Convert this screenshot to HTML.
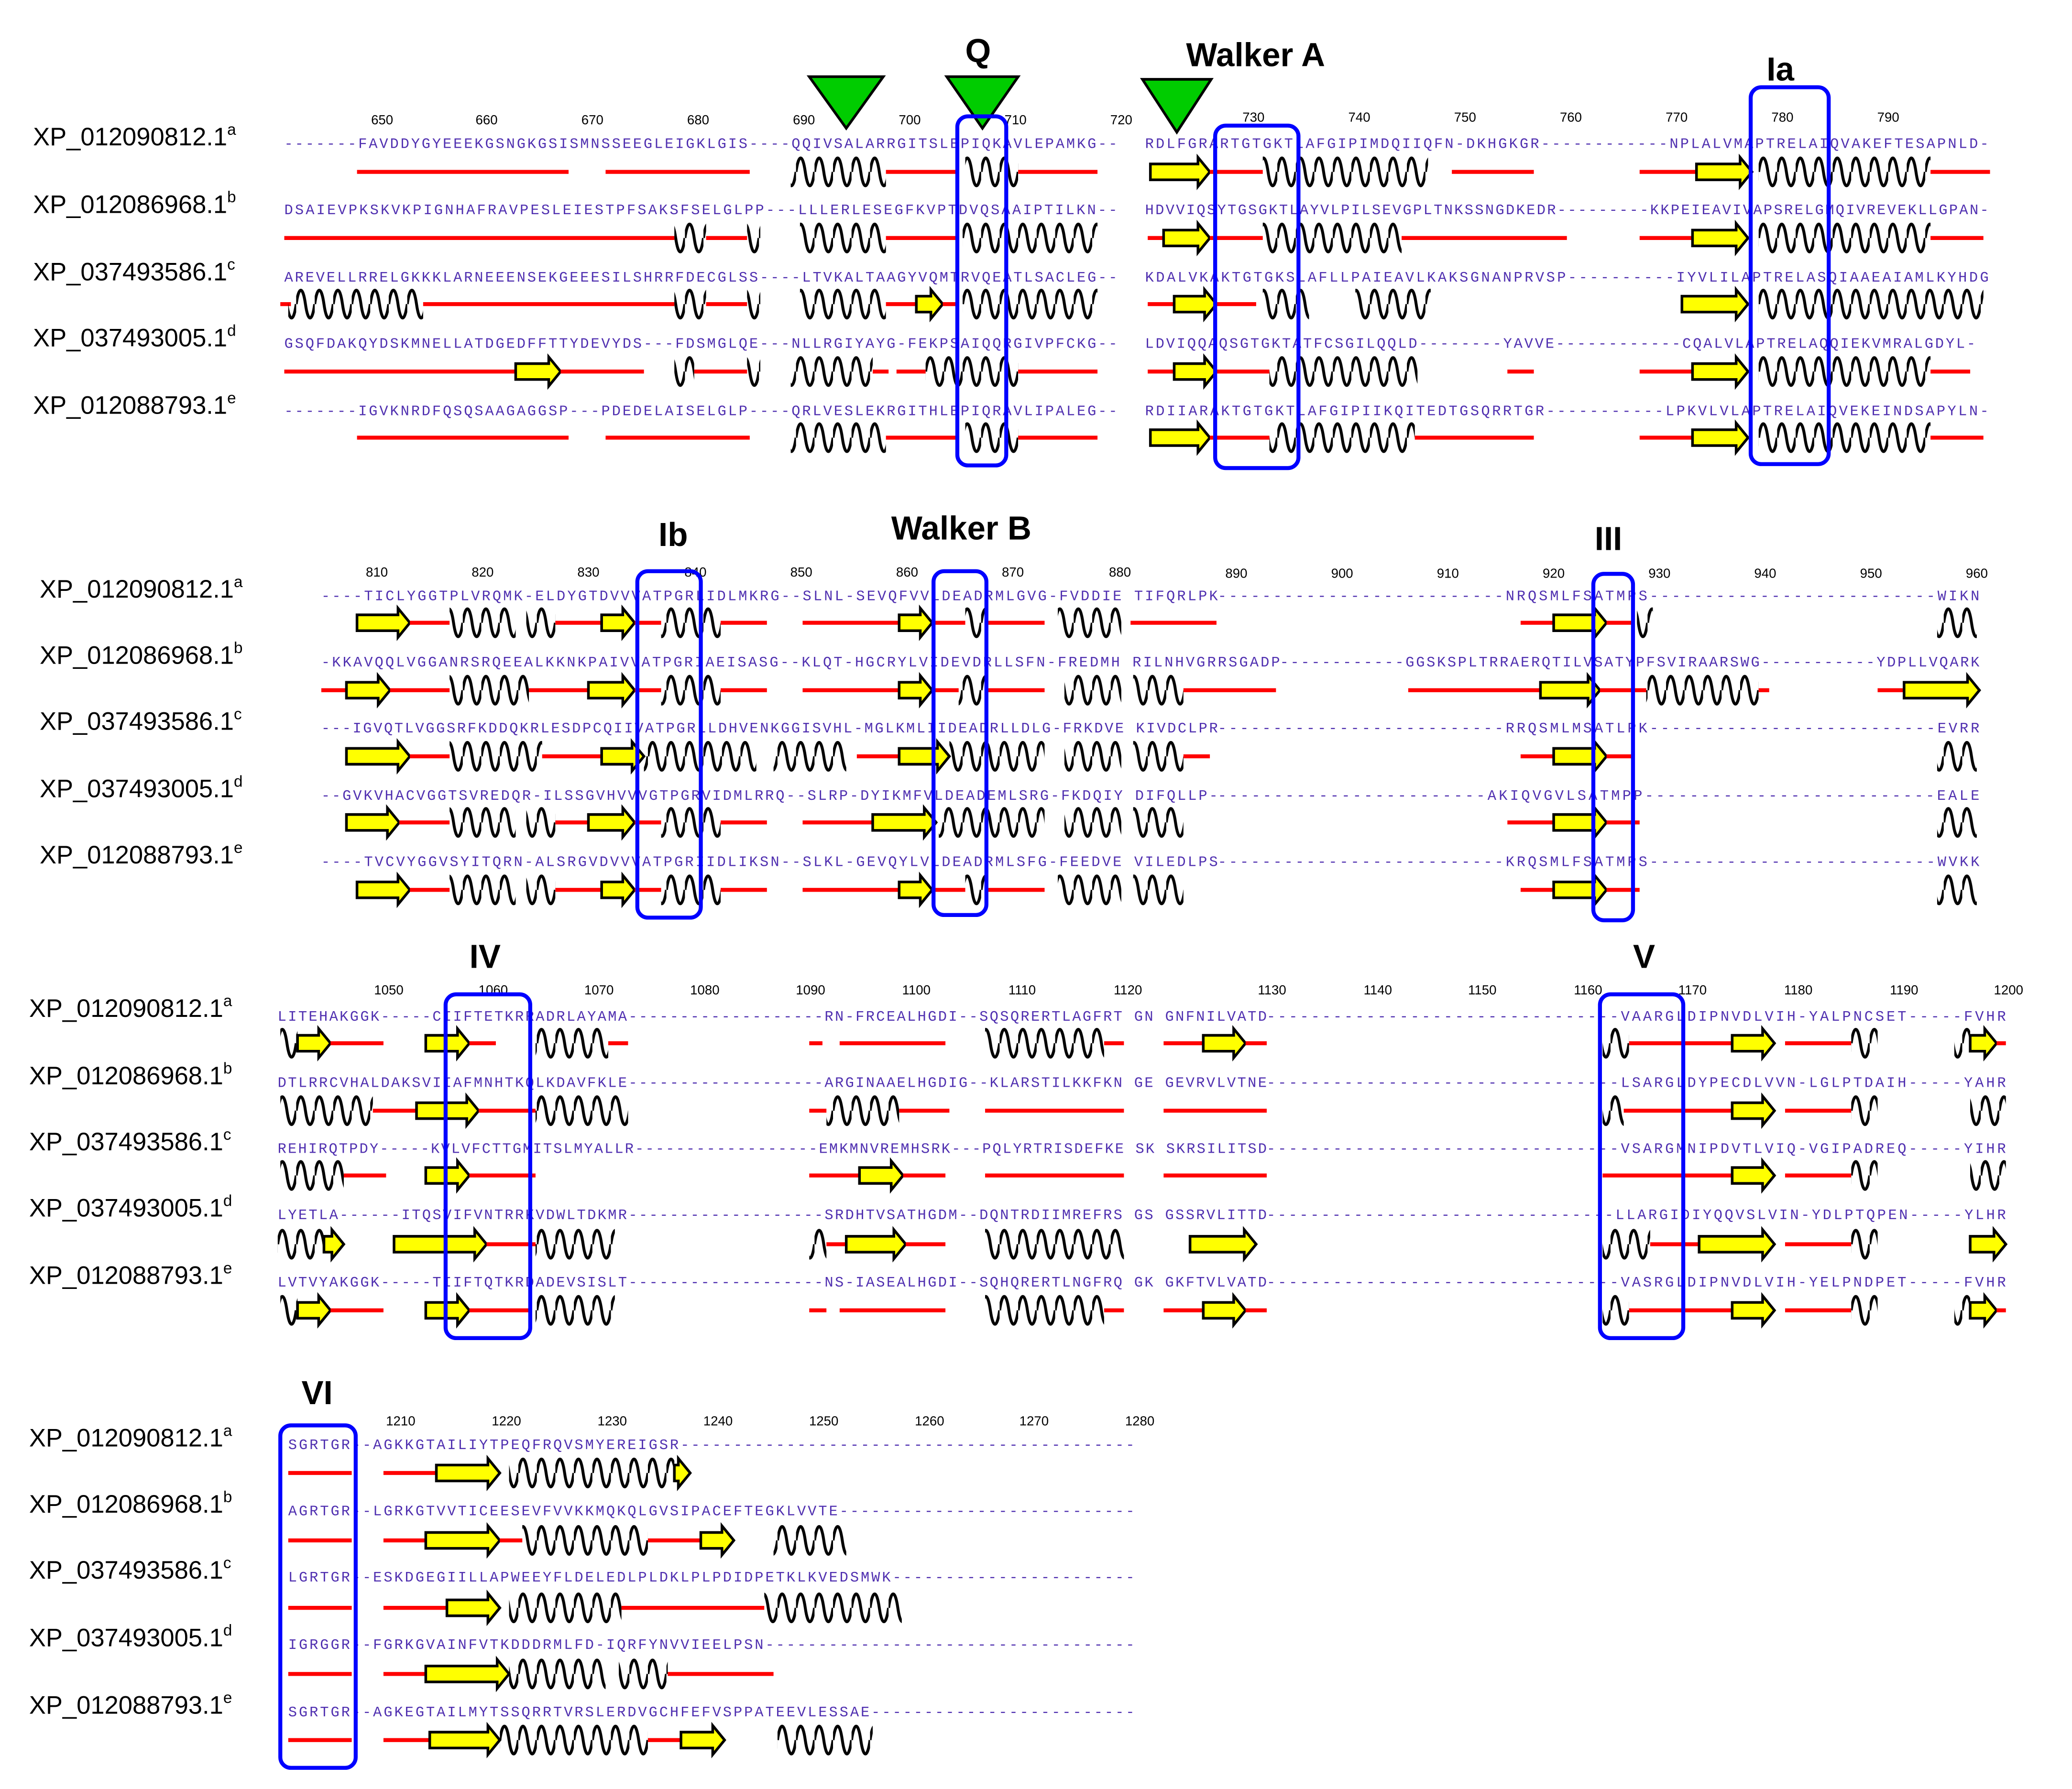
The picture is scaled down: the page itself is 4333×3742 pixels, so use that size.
<!DOCTYPE html>
<html><head><meta charset="utf-8"><style>
html,body{margin:0;padding:0;background:#fff;}
svg{display:block;}
.n{font-family:"Liberation Sans",sans-serif;font-size:19px;fill:#000;}
.s{font-family:"Liberation Mono",monospace;font-size:11px;fill:#5030b0;}
.k{font-family:"Liberation Sans",sans-serif;font-size:10px;fill:#000;}
.t{font-family:"Liberation Sans",sans-serif;font-size:25px;font-weight:bold;fill:#000;}
.b{fill:none;stroke:#0000ff;stroke-width:3;}
.a{fill:#ffff00;stroke:#000;stroke-width:2;}
.r{fill:#ff0000;}
.h{fill:url(#h);}
</style></head><body>
<svg width="4333" height="3742" viewBox="0 0 1567 1353" preserveAspectRatio="none" xmlns="http://www.w3.org/2000/svg">
<defs>
<pattern id="h" patternUnits="userSpaceOnUse" x="0" y="-15" width="14" height="30">
<path d="M0 15 C2 1 5 1 7 15 S12 29 14 15" fill="none" stroke="#000" stroke-width="2.2"/>
</pattern>
</defs>
<rect width="1567" height="1353" fill="#fff"/>

<!-- ===== BLOCK 1 ===== -->
<polygon points="612,58 668,58 640,97" fill="#00cc00" stroke="#000" stroke-width="2"/>
<polygon points="716,58 770,58 743,97" fill="#00cc00" stroke="#000" stroke-width="2"/>
<polygon points="864,60 916,60 890,100" fill="#00cc00" stroke="#000" stroke-width="2"/>
<text class="t" x="730" y="47">Q</text>
<text class="t" x="897" y="50">Walker A</text>
<text class="t" x="1336" y="61">Ia</text>
<g class="k" text-anchor="middle">
<text x="289" y="94">650</text><text x="368" y="94">660</text><text x="448" y="94">670</text><text x="528" y="94">680</text><text x="608" y="94">690</text><text x="688" y="94">700</text><text x="768" y="94">710</text><text x="848" y="94">720</text><text x="948" y="92">730</text><text x="1028" y="92">740</text><text x="1108" y="92">750</text><text x="1188" y="92">760</text><text x="1268" y="92">770</text><text x="1348" y="92">780</text><text x="1428" y="92">790</text>
</g>
<text class="n" x="25" y="110">XP_012090812.1<tspan font-size="12" dy="-8">a</tspan></text>
<text class="n" x="25" y="161">XP_012086968.1<tspan font-size="12" dy="-8">b</tspan></text>
<text class="n" x="25" y="212">XP_037493586.1<tspan font-size="12" dy="-8">c</tspan></text>
<text class="n" x="25" y="262">XP_037493005.1<tspan font-size="12" dy="-8">d</tspan></text>
<text class="n" x="25" y="313">XP_012088793.1<tspan font-size="12" dy="-8">e</tspan></text>
<text class="s" x="215" y="112" textLength="630" lengthAdjust="spacing">-------FAVDDYGYEEEKGSNGKGSISMNSSEEGLEIGKLGIS----QQIVSALARRGITSLEPIQKAVLEPAMKG--</text>
<text class="s" x="866" y="112" textLength="638" lengthAdjust="spacing">RDLFGRARTGTGKTLAFGIPIMDQIIQFN-DKHGKGR------------NPLALVMAPTRELAIQVAKEFTESAPNLD-</text>
<text class="s" x="215" y="162" textLength="630" lengthAdjust="spacing">DSAIEVPKSKVKPIGNHAFRAVPESLEIESTPFSAKSFSELGLPP---LLLERLESEGFKVPTDVQSAAIPTILKN--</text>
<text class="s" x="866" y="162" textLength="638" lengthAdjust="spacing">HDVVIQSYTGSGKTLAYVLPILSEVGPLTNKSSNGDKEDR---------KKPEIEAVIVAPSRELGMQIVREVEKLLGPAN-</text>
<text class="s" x="215" y="213" textLength="630" lengthAdjust="spacing">AREVELLRRELGKKKLARNEEENSEKGEEESILSHRRFDECGLSS----LTVKALTAAGYVQMTRVQEATLSACLEG--</text>
<text class="s" x="866" y="213" textLength="638" lengthAdjust="spacing">KDALVKAKTGTGKSLAFLLPAIEAVLKAKSGNANPRVSP----------IYVLILAPTRELASQIAAEAIAMLKYHDG</text>
<text class="s" x="215" y="263" textLength="630" lengthAdjust="spacing">GSQFDAKQYDSKMNELLATDGEDFFTTYDEVYDS---FDSMGLQE---NLLRGIYAYG-FEKPSAIQQRGIVPFCKG--</text>
<text class="s" x="866" y="263" textLength="628" lengthAdjust="spacing">LDVIQQAQSGTGKTATFCSGILQQLD--------YAVVE------------CQALVLAPTRELAQQIEKVMRALGDYL-</text>
<text class="s" x="215" y="314" textLength="630" lengthAdjust="spacing">-------IGVKNRDFQSQSAAGAGGSP---PDEDELAISELGLP----QRLVESLEKRGITHLEPIQRAVLIPALEG--</text>
<text class="s" x="866" y="314" textLength="638" lengthAdjust="spacing">RDIIARAKTGTGKTLAFGIPIIKQITEDTGSQRRTGR-----------LPKVLVLAPTRELAIQVEKEINDSAPYLN-</text>

<g transform="translate(0,130)">
<rect class="r" x="270" y="-1.5" width="160" height="3"/><rect class="r" x="458" y="-1.5" width="109" height="3"/>
<rect class="h" x="598" y="-15" width="72" height="30"/><rect class="r" x="670" y="-1.5" width="54" height="3"/>
<rect class="h" x="730" y="-15" width="40" height="30"/><rect class="r" x="770" y="-1.5" width="60" height="3"/>
<polygon class="a" points="870,-6 906,-6 906,-11 915,0 906,11 906,6 870,6"/><rect class="r" x="915" y="-1.5" width="40" height="3"/>
<rect class="h" x="955" y="-15" width="125" height="30"/><rect class="r" x="1098" y="-1.5" width="62" height="3"/>
<rect class="r" x="1240" y="-1.5" width="43" height="3"/>
<polygon class="a" points="1283,-6 1316,-6 1316,-11 1325,0 1316,11 1316,6 1283,6"/>
<rect class="h" x="1330" y="-15" width="130" height="30"/><rect class="r" x="1460" y="-1.5" width="45" height="3"/>
</g>
<g transform="translate(0,180)">
<rect class="r" x="215" y="-1.5" width="295" height="3"/><rect class="h" x="510" y="-15" width="24" height="30"/><rect class="r" x="534" y="-1.5" width="31" height="3"/><rect class="h" x="565" y="-15" width="10" height="30"/>
<rect class="h" x="605" y="-15" width="65" height="30"/><rect class="r" x="670" y="-1.5" width="54" height="3"/>
<rect class="h" x="728" y="-15" width="102" height="30"/>
<rect class="r" x="868" y="-1.5" width="12" height="3"/>
<polygon class="a" points="880,-6 906,-6 906,-11 915,0 906,11 906,6 880,6"/><rect class="r" x="915" y="-1.5" width="40" height="3"/>
<rect class="h" x="955" y="-15" width="105" height="30"/><rect class="r" x="1060" y="-1.5" width="125" height="3"/>
<rect class="r" x="1240" y="-1.5" width="40" height="3"/>
<polygon class="a" points="1280,-6 1313,-6 1313,-11 1322,0 1313,11 1313,6 1280,6"/>
<rect class="h" x="1330" y="-15" width="130" height="30"/><rect class="r" x="1460" y="-1.5" width="40" height="3"/>
</g>
<g transform="translate(0,230)">
<rect class="r" x="212" y="-1.5" width="8" height="3"/><rect class="h" x="218" y="-15" width="102" height="30"/><rect class="r" x="320" y="-1.5" width="190" height="3"/><rect class="h" x="510" y="-15" width="24" height="30"/><rect class="r" x="534" y="-1.5" width="31" height="3"/><rect class="h" x="565" y="-15" width="10" height="30"/>
<rect class="h" x="605" y="-15" width="65" height="30"/><rect class="r" x="670" y="-1.5" width="23" height="3"/>
<polygon class="a" points="693,-6 704,-6 704,-11 713,0 704,11 704,6 693,6"/><rect class="r" x="713" y="-1.5" width="11" height="3"/>
<rect class="h" x="728" y="-15" width="102" height="30"/>
<rect class="r" x="868" y="-1.5" width="20" height="3"/>
<polygon class="a" points="888,-6 911,-6 911,-11 920,0 911,11 911,6 888,6"/><rect class="r" x="920" y="-1.5" width="30" height="3"/>
<rect class="h" x="955" y="-15" width="35" height="30"/><rect class="h" x="1025" y="-15" width="57" height="30"/>
<polygon class="a" points="1272,-6 1313,-6 1313,-11 1322,0 1313,11 1313,6 1272,6"/>
<rect class="h" x="1330" y="-15" width="170" height="30"/>
</g>
<g transform="translate(0,281)">
<rect class="r" x="215" y="-1.5" width="175" height="3"/>
<polygon class="a" points="390,-6 415,-6 415,-11 424,0 415,11 415,6 390,6"/><rect class="r" x="424" y="-1.5" width="63" height="3"/>
<rect class="h" x="510" y="-15" width="15" height="30"/><rect class="r" x="525" y="-1.5" width="40" height="3"/><rect class="h" x="565" y="-15" width="10" height="30"/>
<rect class="h" x="598" y="-15" width="62" height="30"/><rect class="r" x="660" y="-1.5" width="12" height="3"/><rect class="r" x="678" y="-1.5" width="22" height="3"/>
<rect class="h" x="700" y="-15" width="70" height="30"/><rect class="r" x="770" y="-1.5" width="60" height="3"/>
<rect class="r" x="868" y="-1.5" width="20" height="3"/>
<polygon class="a" points="888,-6 911,-6 911,-11 920,0 911,11 911,6 888,6"/><rect class="r" x="920" y="-1.5" width="40" height="3"/>
<rect class="h" x="960" y="-15" width="112" height="30"/><rect class="r" x="1140" y="-1.5" width="20" height="3"/>
<rect class="r" x="1240" y="-1.5" width="40" height="3"/>
<polygon class="a" points="1280,-6 1313,-6 1313,-11 1322,0 1313,11 1313,6 1280,6"/>
<rect class="h" x="1330" y="-15" width="130" height="30"/><rect class="r" x="1460" y="-1.5" width="30" height="3"/>
</g>
<g transform="translate(0,331)">
<rect class="r" x="270" y="-1.5" width="160" height="3"/><rect class="r" x="458" y="-1.5" width="109" height="3"/>
<rect class="h" x="598" y="-15" width="72" height="30"/><rect class="r" x="670" y="-1.5" width="54" height="3"/>
<rect class="h" x="730" y="-15" width="40" height="30"/><rect class="r" x="770" y="-1.5" width="60" height="3"/>
<polygon class="a" points="870,-6 906,-6 906,-11 915,0 906,11 906,6 870,6"/><rect class="r" x="915" y="-1.5" width="45" height="3"/>
<rect class="h" x="960" y="-15" width="110" height="30"/><rect class="r" x="1070" y="-1.5" width="90" height="3"/>
<rect class="r" x="1240" y="-1.5" width="40" height="3"/>
<polygon class="a" points="1280,-6 1313,-6 1313,-11 1322,0 1313,11 1313,6 1280,6"/>
<rect class="h" x="1330" y="-15" width="130" height="30"/><rect class="r" x="1460" y="-1.5" width="40" height="3"/>
</g>
<rect class="b" x="724" y="88" width="37" height="264" rx="8"/>
<rect class="b" x="919" y="95" width="63" height="259" rx="8"/>
<rect class="b" x="1324" y="66" width="59" height="285" rx="8"/>

<!-- ===== BLOCK 2 ===== -->
<text class="t" x="498" y="413">Ib</text>
<text class="t" x="674" y="408">Walker B</text>
<text class="t" x="1206" y="416">III</text>
<g class="k" text-anchor="middle">
<text x="285" y="436">810</text><text x="365" y="436">820</text><text x="445" y="436">830</text><text x="526" y="436">840</text><text x="606" y="436">850</text><text x="686" y="436">860</text><text x="766" y="436">870</text><text x="847" y="436">880</text><text x="935" y="437">890</text><text x="1015" y="437">900</text><text x="1095" y="437">910</text><text x="1175" y="437">920</text><text x="1255" y="437">930</text><text x="1335" y="437">940</text><text x="1415" y="437">950</text><text x="1495" y="437">960</text>
</g>
<text class="n" x="30" y="452">XP_012090812.1<tspan font-size="12" dy="-8">a</tspan></text>
<text class="n" x="30" y="502">XP_012086968.1<tspan font-size="12" dy="-8">b</tspan></text>
<text class="n" x="30" y="552">XP_037493586.1<tspan font-size="12" dy="-8">c</tspan></text>
<text class="n" x="30" y="603">XP_037493005.1<tspan font-size="12" dy="-8">d</tspan></text>
<text class="n" x="30" y="653">XP_012088793.1<tspan font-size="12" dy="-8">e</tspan></text>
<text class="s" x="243" y="454" textLength="678" lengthAdjust="spacing">----TICLYGGTPLVRQMK-ELDYGTDVVVATPGRLIDLMKRG--SLNL-SEVQFVVLDEADRMLGVG-FVDDIE TIFQRLPK</text>
<text class="s" x="921" y="454" textLength="576" lengthAdjust="spacing">--------------------------NRQSMLFSATMPS--------------------------WIKN</text>
<text class="s" x="243" y="504" textLength="725" lengthAdjust="spacing">-KKAVQQLVGGANRSRQEEALKKNKPAIVVATPGRIAEISASG--KLQT-HGCRYLVIDEVDRLLSFN-FREDMH RILNHVGRRSGADP</text>
<text class="s" x="968" y="504" textLength="529" lengthAdjust="spacing">------------GGSKSPLTRRAERQTILVSATYPFSVIRAARSWG-----------YDPLLVQARK</text>
<text class="s" x="243" y="554" textLength="678" lengthAdjust="spacing">---IGVQTLVGGSRFKDDQKRLESDPCQIIVATPGRLLDHVENKGGISVHL-MGLKMLIIDEADRLLDLG-FRKDVE KIVDCLPR</text>
<text class="s" x="921" y="554" textLength="576" lengthAdjust="spacing">--------------------------RRQSMLMSATLPK--------------------------EVRR</text>
<text class="s" x="243" y="605" textLength="678" lengthAdjust="spacing">--GVKVHACVGGTSVREDQR-ILSSGVHVVVGTPGRVIDMLRRQ--SLRP-DYIKMFVLDEADEMLSRG-FKDQIY DIFQLLP-</text>
<text class="s" x="921" y="605" textLength="576" lengthAdjust="spacing">------------------------AKIQVGVLSATMPP--------------------------EALE</text>
<text class="s" x="243" y="655" textLength="678" lengthAdjust="spacing">----TVCVYGGVSYITQRN-ALSRGVDVVVATPGRIIDLIKSN--SLKL-GEVQYLVLDEADRMLSFG-FEEDVE VILEDLPS</text>
<text class="s" x="921" y="655" textLength="576" lengthAdjust="spacing">--------------------------KRQSMLFSATMPS--------------------------WVKK</text>

<g transform="translate(0,471)">
<polygon class="a" points="270,-6 301,-6 301,-11 310,0 301,11 301,6 270,6"/><rect class="r" x="310" y="-1.5" width="30" height="3"/><rect class="h" x="340" y="-15" width="50" height="30"/><rect class="h" x="398" y="-15" width="22" height="30"/><rect class="r" x="420" y="-1.5" width="35" height="3"/>
<polygon class="a" points="455,-6 471,-6 471,-11 480,0 471,11 471,6 455,6"/><rect class="r" x="480" y="-1.5" width="20" height="3"/><rect class="h" x="500" y="-15" width="45" height="30"/><rect class="r" x="545" y="-1.5" width="35" height="3"/>
<rect class="r" x="607" y="-1.5" width="73" height="3"/><polygon class="a" points="680,-6 696,-6 696,-11 705,0 696,11 696,6 680,6"/><rect class="r" x="705" y="-1.5" width="25" height="3"/><rect class="h" x="730" y="-15" width="15" height="30"/><rect class="r" x="745" y="-1.5" width="45" height="3"/>
<rect class="h" x="800" y="-15" width="48" height="30"/><rect class="r" x="855" y="-1.5" width="65" height="3"/>
<rect class="r" x="1150" y="-1.5" width="25" height="3"/><polygon class="a" points="1175,-6 1206,-6 1206,-11 1215,0 1206,11 1206,6 1175,6"/><rect class="r" x="1215" y="-1.5" width="20" height="3"/><rect class="h" x="1238" y="-15" width="12" height="30"/>
<rect class="h" x="1465" y="-15" width="30" height="30"/>
</g>
<g transform="translate(0,522)">
<rect class="r" x="243" y="-1.5" width="19" height="3"/><polygon class="a" points="262,-6 286,-6 286,-11 295,0 286,11 286,6 262,6"/><rect class="r" x="295" y="-1.5" width="45" height="3"/><rect class="h" x="340" y="-15" width="60" height="30"/><rect class="r" x="400" y="-1.5" width="45" height="3"/>
<polygon class="a" points="445,-6 471,-6 471,-11 480,0 471,11 471,6 445,6"/><rect class="r" x="480" y="-1.5" width="20" height="3"/><rect class="h" x="500" y="-15" width="45" height="30"/><rect class="r" x="545" y="-1.5" width="35" height="3"/>
<rect class="r" x="607" y="-1.5" width="73" height="3"/><polygon class="a" points="680,-6 696,-6 696,-11 705,0 696,11 696,6 680,6"/><rect class="r" x="705" y="-1.5" width="20" height="3"/><rect class="h" x="725" y="-15" width="20" height="30"/><rect class="r" x="745" y="-1.5" width="45" height="3"/>
<rect class="h" x="805" y="-15" width="43" height="30"/><rect class="h" x="857" y="-15" width="38" height="30"/><rect class="r" x="895" y="-1.5" width="70" height="3"/>
<rect class="r" x="1065" y="-1.5" width="100" height="3"/><polygon class="a" points="1165,-6 1201,-6 1201,-11 1210,0 1201,11 1201,6 1165,6"/><rect class="r" x="1210" y="-1.5" width="35" height="3"/><rect class="h" x="1245" y="-15" width="85" height="30"/><rect class="r" x="1330" y="-1.5" width="8" height="3"/>
<rect class="r" x="1420" y="-1.5" width="20" height="3"/><polygon class="a" points="1440,-6 1488,-6 1488,-11 1497,0 1488,11 1488,6 1440,6"/>
</g>
<g transform="translate(0,572)">
<polygon class="a" points="262,-6 301,-6 301,-11 310,0 301,11 301,6 262,6"/><rect class="r" x="310" y="-1.5" width="30" height="3"/><rect class="h" x="340" y="-15" width="70" height="30"/><rect class="r" x="410" y="-1.5" width="45" height="3"/>
<polygon class="a" points="455,-6 478,-6 478,-11 487,0 478,11 478,6 455,6"/><rect class="h" x="487" y="-15" width="85" height="30"/><rect class="h" x="585" y="-15" width="55" height="30"/>
<rect class="r" x="648" y="-1.5" width="32" height="3"/><polygon class="a" points="680,-6 709,-6 709,-11 718,0 709,11 709,6 680,6"/><rect class="h" x="718" y="-15" width="72" height="30"/>
<rect class="h" x="805" y="-15" width="43" height="30"/><rect class="h" x="857" y="-15" width="38" height="30"/><rect class="r" x="895" y="-1.5" width="20" height="3"/>
<rect class="r" x="1150" y="-1.5" width="25" height="3"/><polygon class="a" points="1175,-6 1206,-6 1206,-11 1215,0 1206,11 1206,6 1175,6"/><rect class="r" x="1215" y="-1.5" width="20" height="3"/>
<rect class="h" x="1465" y="-15" width="30" height="30"/>
</g>
<g transform="translate(0,622)">
<polygon class="a" points="262,-6 293,-6 293,-11 302,0 293,11 293,6 262,6"/><rect class="r" x="302" y="-1.5" width="38" height="3"/><rect class="h" x="340" y="-15" width="50" height="30"/><rect class="h" x="398" y="-15" width="22" height="30"/><rect class="r" x="420" y="-1.5" width="25" height="3"/>
<polygon class="a" points="445,-6 471,-6 471,-11 480,0 471,11 471,6 445,6"/><rect class="r" x="480" y="-1.5" width="20" height="3"/><rect class="h" x="500" y="-15" width="45" height="30"/><rect class="r" x="545" y="-1.5" width="35" height="3"/>
<rect class="r" x="607" y="-1.5" width="53" height="3"/><polygon class="a" points="660,-6 699,-6 699,-11 708,0 699,11 699,6 660,6"/><rect class="h" x="710" y="-15" width="80" height="30"/>
<rect class="h" x="805" y="-15" width="43" height="30"/><rect class="h" x="857" y="-15" width="38" height="30"/>
<rect class="r" x="1140" y="-1.5" width="35" height="3"/><polygon class="a" points="1175,-6 1206,-6 1206,-11 1215,0 1206,11 1206,6 1175,6"/><rect class="r" x="1215" y="-1.5" width="25" height="3"/>
<rect class="h" x="1465" y="-15" width="30" height="30"/>
</g>
<g transform="translate(0,673)">
<polygon class="a" points="270,-6 301,-6 301,-11 310,0 301,11 301,6 270,6"/><rect class="r" x="310" y="-1.5" width="30" height="3"/><rect class="h" x="340" y="-15" width="50" height="30"/><rect class="h" x="398" y="-15" width="22" height="30"/><rect class="r" x="420" y="-1.5" width="35" height="3"/>
<polygon class="a" points="455,-6 471,-6 471,-11 480,0 471,11 471,6 455,6"/><rect class="r" x="480" y="-1.5" width="20" height="3"/><rect class="h" x="500" y="-15" width="45" height="30"/><rect class="r" x="545" y="-1.5" width="35" height="3"/>
<rect class="r" x="607" y="-1.5" width="73" height="3"/><polygon class="a" points="680,-6 696,-6 696,-11 705,0 696,11 696,6 680,6"/><rect class="r" x="705" y="-1.5" width="25" height="3"/><rect class="h" x="730" y="-15" width="15" height="30"/><rect class="r" x="745" y="-1.5" width="45" height="3"/>
<rect class="h" x="800" y="-15" width="48" height="30"/><rect class="h" x="857" y="-15" width="38" height="30"/>
<rect class="r" x="1150" y="-1.5" width="25" height="3"/><polygon class="a" points="1175,-6 1206,-6 1206,-11 1215,0 1206,11 1206,6 1175,6"/><rect class="r" x="1215" y="-1.5" width="25" height="3"/>
<rect class="h" x="1465" y="-15" width="30" height="30"/>
</g>
<rect class="b" x="482" y="432" width="48" height="262" rx="8"/>
<rect class="b" x="706" y="432" width="40" height="260" rx="8"/>
<rect class="b" x="1205" y="434" width="30" height="262" rx="8"/>

<!-- ===== BLOCK 3 ===== -->
<text class="t" x="355" y="732">IV</text>
<text class="t" x="1235" y="732">V</text>
<g class="k" text-anchor="middle">
<text x="294" y="752">1050</text><text x="373" y="752">1060</text><text x="453" y="752">1070</text><text x="533" y="752">1080</text><text x="613" y="752">1090</text><text x="693" y="752">1100</text><text x="773" y="752">1110</text><text x="853" y="752">1120</text><text x="962" y="752">1130</text><text x="1042" y="752">1140</text><text x="1121" y="752">1150</text><text x="1201" y="752">1160</text><text x="1280" y="752">1170</text><text x="1360" y="752">1180</text><text x="1440" y="752">1190</text><text x="1519" y="752">1200</text>
</g>
<text class="n" x="22" y="769">XP_012090812.1<tspan font-size="12" dy="-8">a</tspan></text>
<text class="n" x="22" y="820">XP_012086968.1<tspan font-size="12" dy="-8">b</tspan></text>
<text class="n" x="22" y="870">XP_037493586.1<tspan font-size="12" dy="-8">c</tspan></text>
<text class="n" x="22" y="920">XP_037493005.1<tspan font-size="12" dy="-8">d</tspan></text>
<text class="n" x="22" y="971">XP_012088793.1<tspan font-size="12" dy="-8">e</tspan></text>
<text class="s" x="210" y="772" textLength="748" lengthAdjust="spacing">LITEHAKGGK-----CIIFTETKRRADRLAYAMA-------------------RN-FRCEALHGDI--SQSQRERTLAGFRT GN GNFNILVATD</text>
<text class="s" x="958" y="772" textLength="559" lengthAdjust="spacing">--------------------------------VAARGLDIPNVDLVIH-YALPNCSET-----FVHR</text>
<text class="s" x="210" y="822" textLength="748" lengthAdjust="spacing">DTLRRCVHALDAKSVIIAFMNHTKQLKDAVFKLE-------------------ARGINAAELHGDIG--KLARSTILKKFKN GE GEVRVLVTNE</text>
<text class="s" x="958" y="822" textLength="559" lengthAdjust="spacing">--------------------------------LSARGLDYPECDLVVN-LGLPTDAIH-----YAHR</text>
<text class="s" x="210" y="872" textLength="748" lengthAdjust="spacing">REHIRQTPDY-----KVLVFCTTGMITSLMYALLR------------------EMKMNVREMHSRK---PQLYRTRISDEFKE SK SKRSILITSD</text>
<text class="s" x="958" y="872" textLength="559" lengthAdjust="spacing">--------------------------------VSARGMNIPDVTLVIQ-VGIPADREQ-----YIHR</text>
<text class="s" x="210" y="922" textLength="748" lengthAdjust="spacing">LYETLA------ITQSVIFVNTRRKVDWLTDKMR-------------------SRDHTVSATHGDM--DQNTRDIIMREFRS GS GSSRVLITTD</text>
<text class="s" x="958" y="922" textLength="559" lengthAdjust="spacing">--------------------------------LLARGIDIYQQVSLVIN-YDLPTQPEN-----YLHR</text>
<text class="s" x="210" y="973" textLength="748" lengthAdjust="spacing">LVTVYAKGGK-----TIIFTQTKRDADEVSISLT-------------------NS-IASEALHGDI--SQHQRERTLNGFRQ GK GKFTVLVATD</text>
<text class="s" x="958" y="973" textLength="559" lengthAdjust="spacing">--------------------------------VASRGLDIPNVDLVIH-YELPNDPET-----FVHR</text>

<g transform="translate(0,789)">
<rect class="h" x="212" y="-15" width="13" height="30"/><polygon class="a" points="225,-6 241,-6 241,-11 250,0 241,11 241,6 225,6"/><rect class="r" x="250" y="-1.5" width="40" height="3"/>
<polygon class="a" points="322,-6 346,-6 346,-11 355,0 346,11 346,6 322,6"/><rect class="r" x="355" y="-1.5" width="20" height="3"/><rect class="h" x="405" y="-15" width="55" height="30"/><rect class="r" x="460" y="-1.5" width="15" height="3"/>
<rect class="r" x="612" y="-1.5" width="10" height="3"/><rect class="r" x="635" y="-1.5" width="80" height="3"/><rect class="h" x="745" y="-15" width="90" height="30"/><rect class="r" x="835" y="-1.5" width="15" height="3"/>
<rect class="r" x="880" y="-1.5" width="30" height="3"/><polygon class="a" points="910,-6 933,-6 933,-11 942,0 933,11 933,6 910,6"/><rect class="r" x="942" y="-1.5" width="16" height="3"/>
<rect class="h" x="1212" y="-15" width="20" height="30"/><rect class="r" x="1232" y="-1.5" width="78" height="3"/><polygon class="a" points="1310,-6 1333,-6 1333,-11 1342,0 1333,11 1333,6 1310,6"/><rect class="r" x="1350" y="-1.5" width="50" height="3"/><rect class="h" x="1400" y="-15" width="20" height="30"/>
<rect class="h" x="1478" y="-15" width="12" height="30"/><polygon class="a" points="1490,-6 1501,-6 1501,-11 1510,0 1501,11 1501,6 1490,6"/><rect class="r" x="1510" y="-1.5" width="7" height="3"/>
</g>
<g transform="translate(0,840)">
<rect class="h" x="212" y="-15" width="70" height="30"/><rect class="r" x="282" y="-1.5" width="33" height="3"/><polygon class="a" points="315,-6 353,-6 353,-11 362,0 353,11 353,6 315,6"/><rect class="r" x="362" y="-1.5" width="43" height="3"/><rect class="h" x="405" y="-15" width="70" height="30"/>
<rect class="r" x="612" y="-1.5" width="13" height="3"/><rect class="h" x="625" y="-15" width="55" height="30"/><rect class="r" x="680" y="-1.5" width="38" height="3"/>
<rect class="r" x="745" y="-1.5" width="105" height="3"/><rect class="r" x="880" y="-1.5" width="78" height="3"/>
<rect class="h" x="1212" y="-15" width="16" height="30"/><rect class="r" x="1228" y="-1.5" width="82" height="3"/><polygon class="a" points="1310,-6 1333,-6 1333,-11 1342,0 1333,11 1333,6 1310,6"/><rect class="r" x="1350" y="-1.5" width="50" height="3"/><rect class="h" x="1400" y="-15" width="20" height="30"/>
<rect class="h" x="1490" y="-15" width="27" height="30"/>
</g>
<g transform="translate(0,889)">
<rect class="h" x="212" y="-15" width="48" height="30"/><rect class="r" x="260" y="-1.5" width="32" height="3"/><polygon class="a" points="322,-6 346,-6 346,-11 355,0 346,11 346,6 322,6"/><rect class="r" x="355" y="-1.5" width="50" height="3"/>
<rect class="r" x="612" y="-1.5" width="38" height="3"/><polygon class="a" points="650,-6 674,-6 674,-11 683,0 674,11 674,6 650,6"/><rect class="r" x="683" y="-1.5" width="32" height="3"/>
<rect class="r" x="745" y="-1.5" width="105" height="3"/><rect class="r" x="880" y="-1.5" width="78" height="3"/>
<rect class="r" x="1212" y="-1.5" width="98" height="3"/><polygon class="a" points="1310,-6 1333,-6 1333,-11 1342,0 1333,11 1333,6 1310,6"/><rect class="r" x="1350" y="-1.5" width="50" height="3"/><rect class="h" x="1400" y="-15" width="20" height="30"/>
<rect class="h" x="1490" y="-15" width="27" height="30"/>
</g>
<g transform="translate(0,941)">
<rect class="h" x="210" y="-15" width="35" height="30"/><polygon class="a" points="245,-6 251,-6 251,-11 260,0 251,11 251,6 245,6"/>
<polygon class="a" points="298,-6 359,-6 359,-11 368,0 359,11 359,6 298,6"/><rect class="r" x="368" y="-1.5" width="37" height="3"/><rect class="h" x="405" y="-15" width="60" height="30"/>
<rect class="h" x="612" y="-15" width="13" height="30"/><rect class="r" x="625" y="-1.5" width="15" height="3"/><polygon class="a" points="640,-6 676,-6 676,-11 685,0 676,11 676,6 640,6"/><rect class="r" x="685" y="-1.5" width="30" height="3"/>
<rect class="h" x="745" y="-15" width="105" height="30"/><polygon class="a" points="900,-6 941,-6 941,-11 950,0 941,11 941,6 900,6"/>
<rect class="h" x="1212" y="-15" width="36" height="30"/><rect class="r" x="1248" y="-1.5" width="37" height="3"/><polygon class="a" points="1285,-6 1333,-6 1333,-11 1342,0 1333,11 1333,6 1285,6"/><rect class="r" x="1350" y="-1.5" width="50" height="3"/><rect class="h" x="1400" y="-15" width="20" height="30"/>
<polygon class="a" points="1490,-6 1508,-6 1508,-11 1517,0 1508,11 1508,6 1490,6"/>
</g>
<g transform="translate(0,991)">
<rect class="h" x="212" y="-15" width="13" height="30"/><polygon class="a" points="225,-6 241,-6 241,-11 250,0 241,11 241,6 225,6"/><rect class="r" x="250" y="-1.5" width="40" height="3"/>
<polygon class="a" points="322,-6 346,-6 346,-11 355,0 346,11 346,6 322,6"/><rect class="r" x="355" y="-1.5" width="45" height="3"/><rect class="h" x="405" y="-15" width="60" height="30"/>
<rect class="r" x="612" y="-1.5" width="13" height="3"/><rect class="r" x="635" y="-1.5" width="80" height="3"/><rect class="h" x="745" y="-15" width="90" height="30"/><rect class="r" x="835" y="-1.5" width="15" height="3"/>
<rect class="r" x="880" y="-1.5" width="30" height="3"/><polygon class="a" points="910,-6 933,-6 933,-11 942,0 933,11 933,6 910,6"/><rect class="r" x="942" y="-1.5" width="16" height="3"/>
<rect class="h" x="1212" y="-15" width="20" height="30"/><rect class="r" x="1232" y="-1.5" width="78" height="3"/><polygon class="a" points="1310,-6 1333,-6 1333,-11 1342,0 1333,11 1333,6 1310,6"/><rect class="r" x="1350" y="-1.5" width="50" height="3"/><rect class="h" x="1400" y="-15" width="20" height="30"/>
<rect class="h" x="1478" y="-15" width="12" height="30"/><polygon class="a" points="1490,-6 1501,-6 1501,-11 1510,0 1501,11 1501,6 1490,6"/><rect class="r" x="1510" y="-1.5" width="7" height="3"/>
</g>
<rect class="b" x="337" y="752" width="64" height="260" rx="8"/>
<rect class="b" x="1210" y="752" width="63" height="260" rx="8"/>

<!-- ===== BLOCK 4 ===== -->
<text class="t" x="228" y="1062">VI</text>
<g class="k" text-anchor="middle">
<text x="303" y="1078">1210</text><text x="383" y="1078">1220</text><text x="463" y="1078">1230</text><text x="543" y="1078">1240</text><text x="623" y="1078">1250</text><text x="703" y="1078">1260</text><text x="782" y="1078">1270</text><text x="862" y="1078">1280</text>
</g>
<text class="n" x="22" y="1094">XP_012090812.1<tspan font-size="12" dy="-8">a</tspan></text>
<text class="n" x="22" y="1144">XP_012086968.1<tspan font-size="12" dy="-8">b</tspan></text>
<text class="n" x="22" y="1194">XP_037493586.1<tspan font-size="12" dy="-8">c</tspan></text>
<text class="n" x="22" y="1245">XP_037493005.1<tspan font-size="12" dy="-8">d</tspan></text>
<text class="n" x="22" y="1296">XP_012088793.1<tspan font-size="12" dy="-8">e</tspan></text>
<text class="s" x="218" y="1096" textLength="640" lengthAdjust="spacing">SGRTGR--AGKKGTAILIYTPEQFRQVSMYEREIGSR-------------------------------------------</text>
<text class="s" x="218" y="1146" textLength="640" lengthAdjust="spacing">AGRTGR--LGRKGTVVTICEESEVFVVKKMQKQLGVSIPACEFTEGKLVVTE----------------------------</text>
<text class="s" x="218" y="1196" textLength="640" lengthAdjust="spacing">LGRTGR--ESKDGEGIILLAPWEEYFLDELEDLPLDKLPLPDIDPETKLKVEDSMWK-----------------------</text>
<text class="s" x="218" y="1247" textLength="640" lengthAdjust="spacing">IGRGGR--FGRKGVAINFVTKDDDRMLFD-IQRFYNVVIEELPSN-----------------------------------</text>
<text class="s" x="218" y="1298" textLength="640" lengthAdjust="spacing">SGRTGR--AGKEGTAILMYTSSQRRTVRSLERDVGCHFEFVSPPATEEVLESSAE-------------------------</text>

<g transform="translate(0,1114)">
<rect class="r" x="218" y="-1.5" width="48" height="3"/><rect class="r" x="290" y="-1.5" width="40" height="3"/><polygon class="a" points="330,-6 369,-6 369,-11 378,0 369,11 369,6 330,6"/><rect class="h" x="385" y="-15" width="125" height="30"/><polygon class="a" points="510,-6 513,-6 513,-11 522,0 513,11 513,6 510,6"/>
</g>
<g transform="translate(0,1165)">
<rect class="r" x="218" y="-1.5" width="48" height="3"/><rect class="r" x="290" y="-1.5" width="32" height="3"/><polygon class="a" points="322,-6 369,-6 369,-11 378,0 369,11 369,6 322,6"/><rect class="r" x="378" y="-1.5" width="17" height="3"/><rect class="h" x="395" y="-15" width="95" height="30"/><rect class="r" x="490" y="-1.5" width="40" height="3"/><polygon class="a" points="530,-6 546,-6 546,-11 555,0 546,11 546,6 530,6"/><rect class="h" x="585" y="-15" width="55" height="30"/>
</g>
<g transform="translate(0,1216)">
<rect class="r" x="218" y="-1.5" width="48" height="3"/><rect class="r" x="290" y="-1.5" width="48" height="3"/><polygon class="a" points="338,-6 369,-6 369,-11 378,0 369,11 369,6 338,6"/><rect class="h" x="385" y="-15" width="85" height="30"/><rect class="r" x="470" y="-1.5" width="108" height="3"/><rect class="h" x="578" y="-15" width="104" height="30"/>
</g>
<g transform="translate(0,1266)">
<rect class="r" x="218" y="-1.5" width="48" height="3"/><rect class="r" x="290" y="-1.5" width="32" height="3"/><polygon class="a" points="322,-6 376,-6 376,-11 385,0 376,11 376,6 322,6"/><rect class="h" x="385" y="-15" width="73" height="30"/><rect class="h" x="468" y="-15" width="37" height="30"/><rect class="r" x="505" y="-1.5" width="80" height="3"/>
</g>
<g transform="translate(0,1316)">
<rect class="r" x="218" y="-1.5" width="48" height="3"/><rect class="r" x="290" y="-1.5" width="35" height="3"/><polygon class="a" points="325,-6 369,-6 369,-11 378,0 369,11 369,6 325,6"/><rect class="h" x="378" y="-15" width="112" height="30"/><rect class="r" x="490" y="-1.5" width="25" height="3"/><polygon class="a" points="515,-6 539,-6 539,-11 548,0 539,11 539,6 515,6"/><rect class="h" x="588" y="-15" width="72" height="30"/>
</g>
<rect class="b" x="212" y="1078" width="57" height="259" rx="8"/>
</svg>
</body></html>
